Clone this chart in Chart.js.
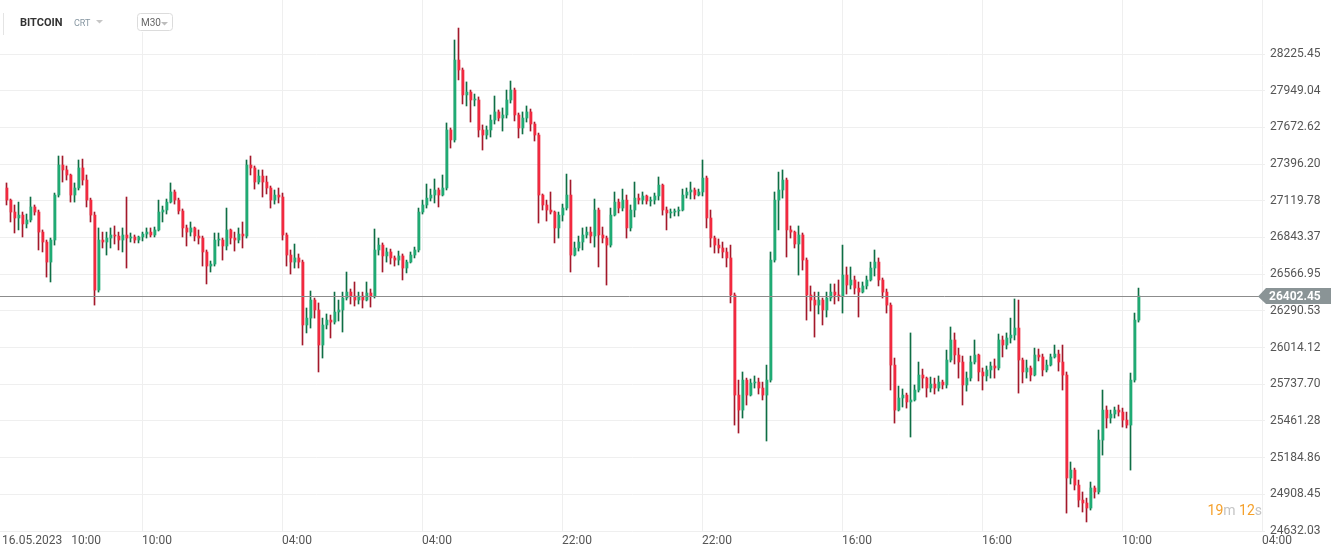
<!DOCTYPE html>
<html>
<head>
<meta charset="utf-8">
<script src="https://cdn.jsdelivr.net/npm/chart.js@4.4.0/dist/chart.umd.min.js"></script>
<style>
  html, body { margin: 0; padding: 0; background: #fff; }
  #wrap { position: relative; width: 1331px; height: 557px; }
</style>
</head>
<body>
<div id="wrap"><canvas id="btcChart"></canvas></div>
<script>
const opens = [
  27216, 27125, 27035, 26990, 27012, 26945, 26975, 27073, 27035, 26884,
  26809, 26658, 26824, 27163, 27389, 27352, 27314, 27163, 27216, 27367,
  27276, 27125, 27012, 26447, 26824, 26809, 26839, 26862, 26854, 26824,
  26862, 26839, 26847, 26824, 26847, 26869, 26884, 26862, 26900, 27035,
  27050, 27110, 27186, 27125, 27043, 26915, 26884, 26915, 26854, 26839,
  26734, 26628, 26643, 26824, 26824, 26779, 26900, 26839, 26824, 26869,
  26854, 27389, 27367, 27261, 27306, 27261, 27216, 27125, 27163, 27148,
  26862, 26711, 26658, 26689, 26658, 26184, 26236, 26372, 26297, 26033,
  26184, 26221, 26206, 26282, 26297, 26387, 26432, 26402, 26372, 26402,
  26372, 26425, 26402, 26749, 26786, 26704, 26734, 26689, 26673, 26704,
  26613, 26658, 26711, 26749, 27035, 27088, 27140, 27163, 27201, 27163,
  27216, 27653, 27578, 28180, 28105, 27917, 27939, 27879, 27879, 27653,
  27615, 27653, 27728, 27789, 27743, 27766, 27879, 27954, 27766, 27668,
  27743, 27789, 27698, 27615, 27163, 27088, 27050, 27035, 26915, 27012,
  27065, 27163, 26711, 26764, 26809, 26862, 26884, 26854, 27050, 26862,
  26839, 26786, 27012, 27110, 27065, 27125, 26915, 27050, 27140, 27125,
  27156, 27118, 27125, 27156, 27238, 27050, 27028, 27035, 27043, 27050,
  27163, 27186, 27201, 27163, 27186, 27291, 26990, 26839, 26786, 26764,
  26734, 26689, 26410, 25656, 25543, 25769, 25656, 25747, 25754, 25709,
  25656, 25769, 26673, 27125, 27201, 27276, 26900, 26884, 26794, 26862,
  26673, 26410, 26372, 26334, 26372, 26297, 26387, 26432, 26410, 26402,
  26560, 26485, 26523, 26462, 26432, 26478, 26523, 26613, 26658, 26523,
  26432, 26334, 25882, 25543, 25634, 25656, 25604, 25619, 25694, 25807,
  25784, 25709, 25739, 25709, 25754, 25732, 25920, 26071, 25958, 25905,
  25732, 25784, 25905, 25958, 25830, 25800, 25845, 25875, 25860, 26071,
  26033, 26086, 26108, 26161, 25920, 25830, 25860, 25807, 25958, 25943,
  25845, 25882, 25943, 25965, 25905, 25807, 25031, 25091, 24978, 24865,
  24843, 24805, 24956, 24926, 25317, 25543, 25483, 25513, 25543, 25528,
  25468, 25430, 25769, 26221
];
const highs = [
  27254, 27133, 27088, 27110, 27035, 27020, 27148, 27088, 27050, 26900,
  26824, 26839, 27178, 27457, 27457, 27382, 27321, 27254, 27427, 27434,
  27314, 27140, 27035, 26915, 26884, 26884, 26915, 26930, 26884, 26915,
  27148, 26877, 26862, 26854, 26884, 26915, 26915, 26922, 27125, 27080,
  27133, 27254, 27201, 27140, 27058, 26937, 26960, 26922, 26900, 26854,
  26749, 26666, 26877, 26877, 26839, 27065, 26907, 26884, 26915, 26960,
  27427, 27457, 27382, 27352, 27352, 27306, 27231, 27201, 27216, 27178,
  26877, 26749, 26794, 26719, 26673, 26312, 26440, 26387, 26350, 26236,
  26267, 26259, 26432, 26372, 26432, 26583, 26455, 26508, 26432, 26432,
  26508, 26455, 26907, 26839, 26802, 26764, 26756, 26704, 26741, 26719,
  26673, 26734, 26771, 27065, 27125, 27246, 27208, 27284, 27216, 27314,
  27706, 27668, 28331, 28421, 28120, 28015, 27954, 27924, 27902, 27691,
  27683, 27766, 27909, 27804, 27819, 27954, 28022, 27969, 27781, 27789,
  27834, 27811, 27713, 27630, 27171, 27125, 27186, 27043, 27035, 27095,
  27321, 27276, 26809, 26854, 26915, 26922, 26922, 27133, 27065, 26922,
  26854, 27065, 27186, 27133, 27208, 27163, 27088, 27261, 27171, 27186,
  27163, 27148, 27178, 27299, 27246, 27073, 27058, 27058, 27073, 27208,
  27216, 27261, 27216, 27208, 27427, 27306, 27050, 26854, 26832, 26809,
  26764, 26786, 26425, 25769, 25830, 25784, 25777, 25800, 25784, 25754,
  25882, 26734, 27186, 27336, 27352, 27291, 26930, 26892, 26930, 26877,
  26689, 26478, 26432, 26432, 26387, 26432, 26493, 26493, 26523, 26786,
  26621, 26621, 26553, 26508, 26508, 26553, 26658, 26749, 26689, 26538,
  26455, 26350, 25935, 25724, 25702, 25671, 26124, 25732, 25905, 25852,
  25792, 25792, 25784, 25800, 25769, 25995, 26169, 26124, 26010, 25950,
  25830, 25950, 26071, 25965, 25860, 25875, 25905, 25928, 26116, 26101,
  26124, 26236, 26380, 26372, 25935, 25920, 25875, 26010, 26003, 25965,
  25920, 25965, 26033, 25995, 26033, 25830, 25152, 25106, 25016, 24926,
  24880, 25001, 24971, 25393, 25694, 25574, 25543, 25566, 25581, 25558,
  25528, 25822, 26274, 26462
];
const lows = [
  27088, 26960, 26877, 26900, 26847, 26915, 26960, 27012, 26749, 26734,
  26545, 26508, 26786, 27148, 27261, 27276, 27110, 27110, 27201, 27238,
  27073, 26960, 26334, 26432, 26764, 26711, 26764, 26794, 26749, 26734,
  26613, 26809, 26802, 26802, 26817, 26839, 26847, 26847, 26892, 26960,
  27020, 27103, 27095, 27020, 26847, 26779, 26854, 26817, 26794, 26628,
  26493, 26583, 26628, 26779, 26673, 26749, 26794, 26741, 26802, 26764,
  26839, 27314, 27208, 27246, 27148, 27171, 27065, 27095, 27103, 26824,
  26628, 26568, 26613, 26613, 26033, 26124, 26161, 26236, 25830, 25935,
  26154, 26086, 26191, 26214, 26131, 26372, 26342, 26327, 26342, 26312,
  26365, 26319, 26387, 26711, 26583, 26658, 26643, 26628, 26636, 26523,
  26576, 26651, 26689, 26734, 27020, 27065, 27118, 27103, 27073, 27156,
  27201, 27517, 27562, 28030, 27849, 27834, 27713, 27834, 27600, 27502,
  27585, 27600, 27698, 27721, 27645, 27743, 27856, 27721, 27593, 27623,
  27713, 27645, 27570, 26952, 27050, 26967, 27020, 26802, 26839, 26967,
  27050, 26583, 26704, 26741, 26749, 26839, 26802, 26771, 26621, 26802,
  26485, 26771, 27005, 27028, 27043, 26839, 26892, 26998, 27095, 27095,
  27095, 27080, 27095, 27125, 27012, 26900, 26990, 27005, 27005, 27043,
  27140, 27133, 27133, 27156, 27156, 26915, 26771, 26726, 26726, 26689,
  26621, 26350, 25430, 25370, 25483, 25581, 25649, 25709, 25664, 25619,
  25310, 25754, 26658, 26900, 27140, 26696, 26839, 26764, 26560, 26598,
  26221, 26289, 26093, 26267, 26184, 26244, 26365, 26342, 26365, 26274,
  26417, 26455, 26417, 26244, 26425, 26455, 26515, 26553, 26478, 26387,
  26274, 25694, 25445, 25536, 25566, 25558, 25340, 25611, 25679, 25709,
  25641, 25679, 25664, 25686, 25702, 25709, 25905, 25890, 25784, 25581,
  25686, 25762, 25890, 25762, 25694, 25762, 25784, 25784, 25845, 25943,
  26003, 26048, 26071, 25671, 25747, 25784, 25762, 25800, 25913, 25800,
  25830, 25875, 25935, 25837, 25694, 24767, 24986, 24941, 24813, 24775,
  24700, 24790, 24880, 24911, 25204, 25408, 25445, 25483, 25498, 25415,
  25408, 25091, 25754, 26206
];
const closes = [
  27125, 27035, 26990, 27012, 26945, 26975, 27073, 27035, 26884, 26809,
  26658, 26824, 27163, 27389, 27352, 27314, 27163, 27216, 27367, 27276,
  27125, 27012, 26447, 26824, 26809, 26839, 26862, 26854, 26824, 26862,
  26839, 26847, 26824, 26847, 26869, 26884, 26862, 26900, 27035, 27050,
  27110, 27186, 27125, 27043, 26915, 26884, 26915, 26854, 26839, 26734,
  26628, 26643, 26824, 26824, 26779, 26900, 26839, 26824, 26869, 26854,
  27389, 27367, 27261, 27306, 27261, 27216, 27125, 27163, 27148, 26862,
  26711, 26658, 26689, 26658, 26184, 26236, 26372, 26297, 26033, 26184,
  26221, 26206, 26282, 26297, 26387, 26432, 26402, 26372, 26402, 26372,
  26425, 26402, 26749, 26786, 26704, 26734, 26689, 26673, 26704, 26613,
  26658, 26711, 26749, 27035, 27088, 27140, 27163, 27201, 27163, 27216,
  27653, 27578, 28180, 28105, 27917, 27939, 27879, 27879, 27653, 27615,
  27653, 27728, 27789, 27743, 27766, 27879, 27954, 27766, 27668, 27743,
  27789, 27698, 27615, 27163, 27088, 27050, 27035, 26915, 27012, 27065,
  27163, 26711, 26764, 26809, 26862, 26884, 26854, 27050, 26862, 26839,
  26786, 27012, 27110, 27065, 27125, 26915, 27050, 27140, 27125, 27156,
  27118, 27125, 27156, 27238, 27050, 27028, 27035, 27043, 27050, 27163,
  27186, 27201, 27163, 27186, 27291, 26990, 26839, 26786, 26764, 26734,
  26689, 26410, 25656, 25543, 25769, 25656, 25747, 25754, 25709, 25656,
  25769, 26673, 27125, 27201, 27276, 26900, 26884, 26794, 26862, 26673,
  26410, 26372, 26334, 26372, 26297, 26387, 26432, 26410, 26402, 26560,
  26485, 26523, 26462, 26432, 26478, 26523, 26613, 26658, 26523, 26432,
  26334, 25882, 25543, 25634, 25656, 25604, 25619, 25694, 25807, 25784,
  25709, 25739, 25709, 25754, 25732, 25920, 26071, 25958, 25905, 25732,
  25784, 25905, 25958, 25830, 25800, 25845, 25875, 25860, 26071, 26033,
  26086, 26108, 26161, 25920, 25830, 25860, 25807, 25958, 25943, 25845,
  25882, 25943, 25965, 25905, 25807, 25031, 25091, 24978, 24865, 24843,
  24805, 24956, 24926, 25317, 25543, 25483, 25513, 25543, 25528, 25468,
  25430, 25769, 26221, 26402.45
];

// axis labels as shown on the screenshot
const priceTicks = [28225.45, 27949.04, 27672.62, 27396.20, 27119.78, 26843.37, 26566.95,
  26290.53, 26014.12, 25737.70, 25461.28, 25184.86, 24908.45, 24632.03];
const timeLabels = ['16.05.2023   10:00', '10:00', '04:00', '04:00', '22:00', '22:00',
  '16:00', '16:00', '10:00', '04:00'];

const lastPrice = closes[closes.length - 1];
const UP_BODY = '#1fab74';
const UP_WICK = '#0f6e45';
const DOWN_BODY = '#f2293f';
const DOWN_WICK = '#a3192b';
const BODY_SHIFT = 0.125; // half a pixel, keeps the 2px bodies on whole pixels

const isUp = (i) => closes[i] >= opens[i];

// tick slots on the x axis: first one is the start date, then one every 35 candles
const timeTickValues = timeLabels.map((_, i) => (i === 0 ? -1.125 : 33.875 + 35 * (i - 1)));

const overlayPlugin = {
  id: 'overlay',
  afterDatasetsDraw(chart) {
    const { ctx, chartArea, scales } = chart;
    const py = Math.round(scales.y.getPixelForValue(lastPrice)) + 0.5;
    ctx.save();
    ctx.strokeStyle = '#8c8c8c';
    ctx.lineWidth = 1;
    ctx.beginPath();
    ctx.moveTo(chartArea.left, py);
    ctx.lineTo(chartArea.right - 6, py);
    ctx.stroke();
    ctx.restore();
  },
  afterDraw(chart) {
    const { ctx, chartArea, scales, width } = chart;
    const py = Math.round(scales.y.getPixelForValue(lastPrice));
    ctx.save();

    // last price tag
    ctx.fillStyle = '#8a9496';
    ctx.beginPath();
    ctx.moveTo(chartArea.right - 7, py + 0.5);
    ctx.lineTo(chartArea.right + 1, py - 8);
    ctx.lineTo(width, py - 8);
    ctx.lineTo(width, py + 8);
    ctx.lineTo(chartArea.right + 1, py + 8);
    ctx.closePath();
    ctx.fill();
    ctx.fillStyle = '#ffffff';
    ctx.font = 'bold 12px Roboto, sans-serif';
    ctx.textBaseline = 'middle';
    ctx.textAlign = 'left';
    ctx.fillText(lastPrice.toFixed(2), chartArea.right + 4, py + 0.5);

    // candle countdown
    const parts = [['19', '#f5a02a'], ['m', '#c4c4c4'], [' ', '#c4c4c4'], ['12', '#f5a02a'], ['s', '#c4c4c4']];
    ctx.font = '14px Roboto, sans-serif';
    let total = 0;
    parts.forEach(([t]) => { total += ctx.measureText(t).width; });
    let x = chartArea.right - 3 - total;
    const ty = chartArea.bottom - 20;
    parts.forEach(([t, c]) => {
      ctx.fillStyle = c;
      ctx.fillText(t, x, ty);
      x += ctx.measureText(t).width;
    });

    // header
    ctx.fillStyle = '#ffffff';
    ctx.fillRect(4, 0, 196, 32);
    ctx.strokeStyle = '#e4e4e4';
    ctx.beginPath();
    ctx.moveTo(3.5, 13);
    ctx.lineTo(3.5, 35);
    ctx.stroke();

    ctx.textBaseline = 'alphabetic';
    ctx.fillStyle = '#333333';
    ctx.font = 'bold 11px Roboto, sans-serif';
    ctx.fillText('BITCOIN', 20, 26);
    ctx.fillStyle = '#8797a2';
    ctx.font = '9px Roboto, sans-serif';
    ctx.fillText('CRT', 74, 26);
    ctx.fillStyle = '#c6c6c6';
    ctx.beginPath();
    ctx.moveTo(96, 20); ctx.lineTo(103, 20); ctx.lineTo(99.5, 23.5);
    ctx.closePath();
    ctx.fill();

    ctx.strokeStyle = '#dcdcdc';
    ctx.beginPath();
    ctx.roundRect(137.5, 13.5, 35, 17, 3);
    ctx.stroke();
    ctx.fillStyle = '#666666';
    ctx.font = '10px Roboto, sans-serif';
    ctx.fillText('M30', 141, 26);
    ctx.fillStyle = '#bdbdbd';
    ctx.beginPath();
    ctx.moveTo(161, 22); ctx.lineTo(168, 22); ctx.lineTo(164.5, 25.5);
    ctx.closePath();
    ctx.fill();

    ctx.restore();
  }
};

const ctx = document.getElementById('btcChart').getContext('2d');
new Chart(ctx, {
  type: 'bar',
  data: {
    datasets: [
      {
        label: 'body',
        data: closes.map((c, i) => ({ x: i + BODY_SHIFT, y: [opens[i], c] })),
        backgroundColor: (c) => (isUp(c.dataIndex) ? UP_BODY : DOWN_BODY),
        barThickness: 2,
        minBarLength: 1,
        borderWidth: 0,
      },
      {
        label: 'wick',
        data: highs.map((h, i) => ({ x: i, y: [lows[i], h] })),
        backgroundColor: (c) => (isUp(c.dataIndex) ? UP_WICK : DOWN_WICK),
        barThickness: 1,
        minBarLength: 1,
        borderWidth: 0,
      },
    ],
  },
  options: {
    responsive: true,
    maintainAspectRatio: false,
    animation: false,
    layout: { padding: 0 },
    datasets: { bar: { grouped: false } },
    plugins: {
      legend: { display: false },
      tooltip: { enabled: false },
    },
    scales: {
      x: {
        type: 'linear',
        min: -1.625,
        max: 314.625,
        offset: false,
        grid: {
          offset: false,
          color: (c) => (c.index === 0 ? 'rgba(0,0,0,0)' : '#efefef'),
          drawTicks: false,
        },
        border: { display: false },
        ticks: {
          autoSkip: false,
          maxRotation: 0,
          align: 'start',
          padding: 3,
          color: '#555555',
          font: { family: 'Roboto', size: 12 },
          callback: (v, i) => timeLabels[i],
        },
        afterBuildTicks: (scale) => {
          scale.ticks = timeTickValues.map((v) => ({ value: v }));
        },
        afterFit: (scale) => {
          scale.height = 26;
          scale.paddingLeft = 0;
          scale.paddingRight = 0;
        },
      },
      y: {
        position: 'right',
        min: 24632.03,
        max: 28632.3,
        grid: { color: '#efefef', drawTicks: false },
        border: { display: false },
        ticks: {
          padding: 5,
          color: '#555555',
          font: { family: 'Roboto', size: 12 },
          callback: (v) => Number(v).toFixed(2),
        },
        afterBuildTicks: (scale) => {
          scale.ticks = priceTicks.map((v) => ({ value: v }));
        },
        afterFit: (scale) => {
          scale.width = 66;
          scale.paddingTop = 0;
          scale.paddingBottom = 0;
        },
      },
    },
  },
  plugins: [overlayPlugin],
});
</script>
</body>
</html>
